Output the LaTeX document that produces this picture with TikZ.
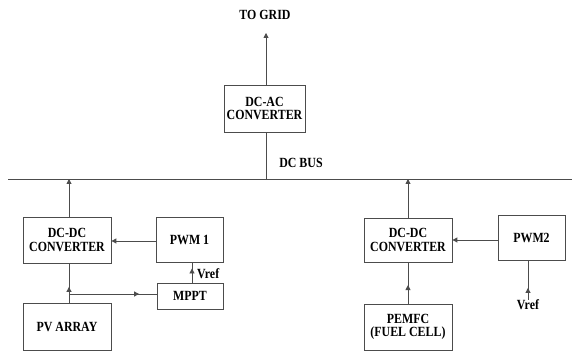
\documentclass[tikz,border=0pt]{standalone}
\usepackage{fontspec}
\setmainfont{Liberation Serif}
\newfontfamily\lblfont[FakeStretch=0.85]{Liberation Serif}
\usetikzlibrary{arrows.meta,decorations.markings,shadows}
\begin{document}
\begin{tikzpicture}[x=1pt,y=1pt,
  lbl/.style={font=\lblfont\bfseries\fontsize{14}{13.5}\selectfont, align=center, text=black, inner sep=0pt},
  blk/.style={lbl, draw=gray!60!black, line width=0.8pt, fill=white, minimum width=#1, drop shadow={shadow xshift=0.8pt, shadow yshift=-0.8pt, fill=gray!60!black, opacity=1}},
  wire/.style={draw=gray!60!black, line width=0.9pt},
  tip/.style={-{Triangle[length=5pt,width=5pt]}},
  tipat/.style={postaction={decorate}, decoration={markings, mark=at position #1 with {\arrow[gray!60!black]{Triangle[length=5pt,width=5pt]}}}}
]
\useasboundingbox (0,0) rectangle (572,352);

% nodes
\node[lbl] (grid) at (265,337) {TO GRID};
\node[blk=81pt, minimum height=47pt] (dcac) at (264.5,243.5) {DC-AC\\CONVERTER};
\node[lbl] (busl) at (301,189) {DC BUS};
\coordinate (busL) at (8,173);
\coordinate (busR) at (572,173);

\node[blk=88pt, minimum height=46pt] (dc1) at (67,112) {DC-DC\\CONVERTER};
\node[blk=67pt, minimum height=45pt] (pwm1) at (189.5,112.5) {PWM 1};
\node[blk=66pt, minimum height=26pt] (mppt) at (190,56) {MPPT};
\node[blk=88pt, minimum height=47pt] (pv) at (67,25.5) {PV ARRAY};
\node[lbl, anchor=west] (vref1) at (197,78) {Vref};

\node[blk=88pt, minimum height=44pt] (dc2) at (408,112) {DC-DC\\CONVERTER};
\node[blk=67pt, minimum height=45pt] (pwm2) at (531.5,114.5) {PWM2};
\node[blk=88pt, minimum height=46pt] (fc) at (408,25) {PEMFC\\(FUEL CELL)};
\node[lbl] (vref2) at (528,47) {Vref};

\coordinate (gridtip) at (266,319);
\coordinate (br) at (69,58);

% bus
\draw[wire] (busL) -- (busR);

% connectors
\draw[wire, tip] (dcac.north -| gridtip) -- (gridtip);
\draw[wire] (dcac.south -| gridtip) -- (gridtip |- busL);

\draw[wire, tip] (dc1.north -| br) -- (br |- busL);
\draw[wire, tip] (pwm1.west |- 0,111) -- (dc1.east |- 0,111);
\draw[wire, tipat=0.7] (mppt.north -| 192,0) -- (pwm1.south -| 192,0);
\draw[wire, tipat=0.4] (pv.north -| br) -- (dc1.south -| br);
\draw[wire, tipat=0.8] (br) -- (mppt.west |- br);

\draw[wire, tip] (dc2.north) -- (dc2.north |- busL);
\draw[wire, tip] (pwm2.west |- 0,112) -- (dc2.east |- 0,112);
\draw[wire, tipat=0.45] (fc.north) -- (dc2.south);
\draw[wire, tipat=0.3] (vref2.north -| 528,0) -- (pwm2.south -| 528,0);
\end{tikzpicture}
\end{document}
